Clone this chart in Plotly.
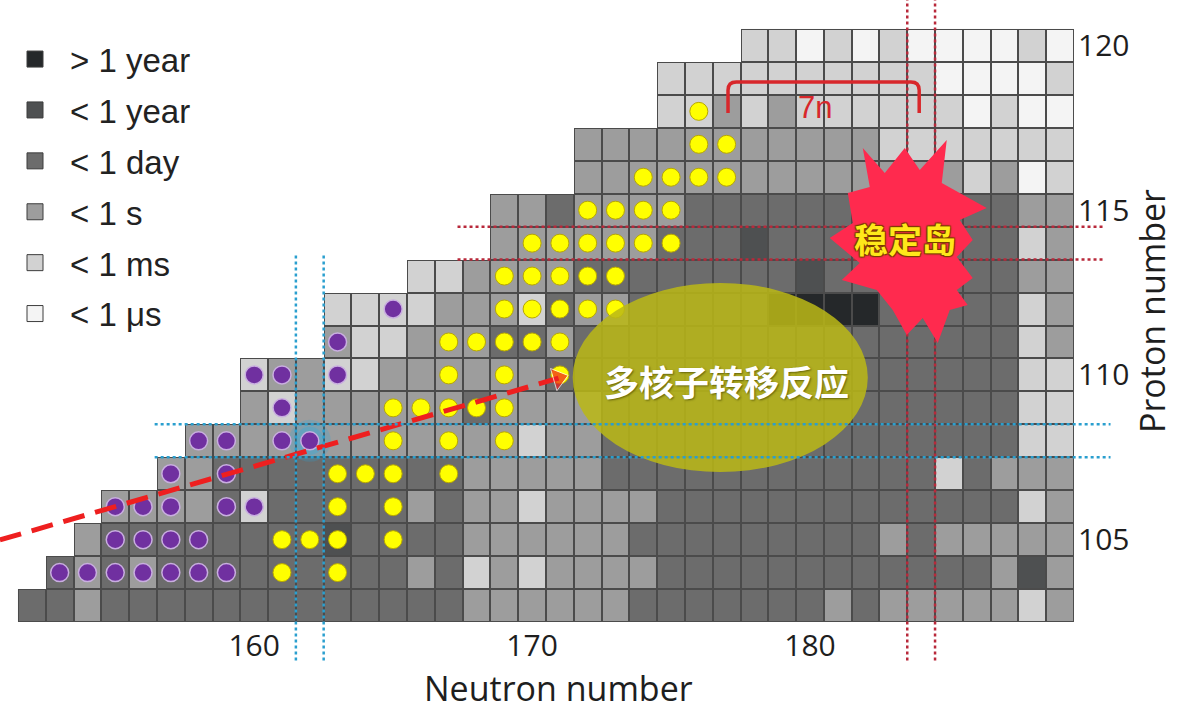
import plotly.graph_objects as go

# Half-life classes (legend order) and their shades
HALF_LIFE_LABELS = ["> 1 year", "< 1 year", "< 1 day", "< 1 s", "< 1 ms", "< 1 μs"]
HALF_LIFE_COLORS = ["#25282a", "#4e5051", "#6c6c6c", "#9d9d9d", "#d2d2d2", "#f4f4f4"]
CLASS_CODES = "ABCDEF"

# Chart of nuclides: one row per proton number, cells run from the first
# known neutron number up to N = 189
N_MIN, N_MAX = 152, 189
PROTON_NUMBERS = list(range(103, 121))
ROW_FIRST_N = [152, 153, 154, 155, 157, 158, 160, 160, 163,
               163, 166, 169, 169, 172, 172, 175, 175, 178]
ROW_CLASSES = [
    "CCDCCCCCCCCCCCCCDDDDDDCCCCCCCDCDDDDDED",   # Z = 103
    "CDCDCCCCCCCCCDCEDEDDDDCCCCCCCCCCCCDBD",    # Z = 104
    "DCCCCCCCCBCCCCDDDDDDCCCCCCCCCDCDDDDD",     # Z = 105
    "DDDDCECCCCCDCDDEDDDDCCCCCCCCCCCCCED",      # Z = 106
    "DDCCCCCCCCCDDDDDCCCCCCCCCCCCECDDD",        # Z = 107
    "DDDDDDDDDDDDEDDCCCCCCCCCCCCCCCEE",         # Z = 108
    "DEDDDDDDCDDDDCCCCCCCCCCCCCCCEE",           # Z = 109
    "EDDEEDDDDDDCCCCCCCCCCCCCCCCCEE",           # Z = 110
    "DEEDDDCCDCCCCCCCCCCCCCCCCED",              # Z = 111
    "EEEEDDDECDDCCCCCAAAACCCCCED",              # Z = 112
    "EEDDDDCCCCCCCCBCCCCCCCDD",                 # Z = 113
    "DDDDDDCCCBCCCCCCCCCED",                    # Z = 114
    "DDCDDDDCCCCCCCCCCCCDD",                    # Z = 115
    "DDDDDDDDDDDDDDEDFE",                       # Z = 116
    "DDDDDDDDDDDEEEEEEE",                       # Z = 117
    "EEDEDEEEEEEFEFF",                          # Z = 118
    "EEEEEEEEEEFFFFE",                          # Z = 119
    "EEFEFEFFFFEF",                             # Z = 120
]

# Nuclides reached by fusion-evaporation (purple) and other reactions (yellow)
PURPLE_N = [153, 154, 155, 156, 157, 158, 159,
            155, 156, 157, 158,
            155, 156, 157, 159, 160,
            157, 159,
            158, 159, 161, 162,
            161,
            160, 161, 163,
            163,
            165]
PURPLE_Z = [104] * 7 + [105] * 4 + [106] * 5 + [107] * 2 + [108] * 4 + [109] + [110] * 3 + [111] + [112]

YELLOW_N = [161, 163,
            161, 162, 163, 165,
            163, 165,
            163, 164, 165, 167,
            165, 167, 169,
            165, 166, 167, 168, 169,
            167, 169, 171,
            167, 168, 169, 170, 171,
            169, 170, 171, 172, 173,
            169, 170, 171, 172, 173,
            170, 171, 172, 173, 174, 175,
            172, 173, 174, 175,
            174, 175, 176, 177,
            176, 177,
            176]
YELLOW_Z = ([104] * 2 + [105] * 4 + [106] * 2 + [107] * 4 + [108] * 3 + [109] * 5 +
            [110] * 3 + [111] * 5 + [112] * 5 + [113] * 5 + [114] * 6 + [115] * 4 +
            [116] * 4 + [117] * 2 + [118])

# Shell closures and the superheavy island
DEFORMED_N, DEFORMED_Z = 162, 108
MAGIC_N, MAGIC_Z = 184, 114

X_TICKS = [160, 170, 180]
Y_TICKS = [105, 110, 115, 120]
X_RANGE = [150.853, 189.5]
Y_RANGE = [102.5, 121.38]

neutrons = list(range(N_MIN, N_MAX + 1))
z_class, z_mask = [], []
for first, codes in zip(ROW_FIRST_N, ROW_CLASSES):
    row = [None] * (first - N_MIN) + [CLASS_CODES.index(c) for c in codes]
    assert len(row) == len(neutrons), (first, len(row))
    z_class.append(row)
    z_mask.append([None if v is None else 0 for v in row])

n_cls = len(HALF_LIFE_COLORS)
colorscale = []
for i, c in enumerate(HALF_LIFE_COLORS):
    colorscale += [[i / n_cls, c], [(i + 1) / n_cls, c]]

fig = go.Figure()

# cell borders: a uniform layer under the gapped class layer
fig.add_trace(go.Heatmap(x=neutrons, y=PROTON_NUMBERS, z=z_mask,
                         colorscale=[[0, "#4b4b4b"], [1, "#4b4b4b"]],
                         showscale=False, hoverinfo="skip"))
fig.add_trace(go.Heatmap(x=neutrons, y=PROTON_NUMBERS, z=z_class,
                         colorscale=colorscale, zmin=-0.5, zmax=n_cls - 0.5,
                         xgap=2, ygap=2, showscale=False, hoverinfo="skip"))

# glow on the deformed shell nucleus
fig.add_trace(go.Scatter(x=[DEFORMED_N, DEFORMED_N], y=[DEFORMED_Z, DEFORMED_Z], mode="markers",
                         marker=dict(size=[42, 28], color=["rgba(30,170,230,0.30)", "rgba(30,175,235,0.40)"],
                                     line=dict(width=0)),
                         showlegend=False, hoverinfo="skip"))

fig.add_trace(go.Scatter(x=PURPLE_N, y=PURPLE_Z, mode="markers",
                         marker=dict(size=18, color="#7030a0", line=dict(color="#c9aee0", width=1.5)),
                         showlegend=False, hoverinfo="skip"))
fig.add_trace(go.Scatter(x=YELLOW_N, y=YELLOW_Z, mode="markers",
                         marker=dict(size=18, color="#ffff00", line=dict(color="#b8a800", width=1)),
                         showlegend=False, hoverinfo="skip"))

# dashed arrow towards the multinucleon transfer region
ARROW_N = [150.85, 170.95]
ARROW_Z = [104.99, 109.9]
fig.add_trace(go.Scatter(x=ARROW_N, y=ARROW_Z, mode="lines+markers",
                         line=dict(color="#ee1f1f", width=5, dash="22px,11px"),
                         marker=dict(size=[0, 20], symbol="triangle-up", angleref="previous",
                                     color="#ee1f1f"),
                         showlegend=False, hoverinfo="skip"))

# legend entries
for label, color in zip(HALF_LIFE_LABELS, HALF_LIFE_COLORS):
    fig.add_trace(go.Scatter(x=[None], y=[None], mode="markers", name=label, legendgroup=label,
                             marker=dict(symbol="square", size=16, color=color,
                                         line=dict(color="#3c3c3c", width=1))))

shapes = []
# multinucleon transfer ellipse
shapes.append(dict(type="circle", xref="x", yref="y", x0=171.46, x1=182.08, y0=107.05, y1=112.79,
                   fillcolor="rgba(186,184,22,0.86)", line=dict(width=0), layer="above"))

blue = dict(color="#2a9fcf", width=2.5, dash="dot")
red = dict(color="#b8283a", width=2.5, dash="dot")
for xv in (DEFORMED_N - 0.5, DEFORMED_N + 0.5):
    shapes.append(dict(type="line", xref="x", yref="paper", x0=xv, x1=xv, y0=-0.062, y1=0.593, line=blue))
for yv in (DEFORMED_Z - 0.5, DEFORMED_Z + 0.5):
    shapes.append(dict(type="line", xref="paper", yref="y", x0=0.144, x1=1.034, y0=yv, y1=yv, line=blue))
for xv in (MAGIC_N - 0.5, MAGIC_N + 0.5):
    shapes.append(dict(type="line", xref="x", yref="paper", x0=xv, x1=xv, y0=-0.062, y1=1.0, line=red))
for yv in (MAGIC_Z - 0.5, MAGIC_Z + 0.5):
    shapes.append(dict(type="line", xref="paper", yref="y", x0=0.426, x1=1.029, y0=yv, y1=yv, line=red))

# "7n" bracket between N = 177 and N = 184
bx0, bx1, by0, by1, rx, ry = 177.05, 183.93, 117.95, 118.89, 0.3, 0.25
shapes.append(dict(type="path", xref="x", yref="y",
                   path=(f"M {bx0},{by0} L {bx0},{by1 - ry} Q {bx0},{by1} {bx0 + rx},{by1} "
                         f"L {bx1 - rx},{by1} Q {bx1},{by1} {bx1},{by1 - ry} L {bx1},{by0}"),
                   line=dict(color="#d8272b", width=3.5)))

# starburst marking the island of stability
STAR_CENTER = (183.41, 113.94)
STAR_OFFSETS = [(-1.511, 2.945), (-0.719, 2.186), (0.0, 2.945), (0.540, 2.277), (1.511, 3.188),
                (1.331, 1.882), (2.950, 1.123), (1.978, 0.759), (2.446, 0.152), (1.871, -0.364),
                (2.446, -1.002), (1.871, -1.366), (2.266, -1.821), (1.619, -1.973), (1.187, -2.975),
                (0.647, -2.216), (0.072, -2.732), (-0.432, -1.973), (-1.007, -1.366), (-2.266, -1.062),
                (-1.619, -0.546), (-2.698, 0.213), (-1.871, 0.668), (-2.050, 1.579), (-1.259, 1.761)]
star_path = "M " + " L ".join(f"{STAR_CENTER[0] + dx:.3f},{STAR_CENTER[1] + dy:.3f}"
                              for dx, dy in STAR_OFFSETS) + " Z"
shapes.append(dict(type="path", xref="x", yref="y", path=star_path,
                   fillcolor="#ff2a4e", line=dict(width=0), layer="above"))

title_font = dict(family="Open Sans", size=34, color="#1e1e1e")
tick_font = dict(family="Open Sans", size=30, color="#1e1e1e")

annotations = [
    dict(x=177.0, y=109.84, xref="x", yref="y", text="多核子转移反应", showarrow=False,
         font=dict(family="Noto Sans CJK SC", size=35, color="#ffffff", weight="bold",
                   shadow="1px 1px 2px rgba(70,70,0,0.7)")),
    dict(x=183.41, y=114.15, xref="x", yref="y", text="稳定岛", showarrow=False,
         font=dict(family="Noto Sans CJK SC", size=34, color="#ffe81a", weight="bold",
                   shadow="1px 1px 1px #7a3c00, -1px -1px 1px #7a3c00, 1px -1px 1px #7a3c00, -1px 1px 1px #7a3c00")),
    dict(x=180.17, y=118.13, xref="x", yref="y", text="7n", showarrow=False,
         font=dict(family="Liberation Sans", size=31, color="#d8272b")),
    # x-axis title
    dict(x=558 / 1074, y=-0.1065, xref="paper", yref="paper", text="Neutron number", showarrow=False,
         xanchor="center", yanchor="middle", font=title_font),
]

fig.update_layout(
    width=1184, height=712,
    margin=dict(l=0, r=110, t=0, b=90),
    plot_bgcolor="white", paper_bgcolor="white",
    shapes=shapes, annotations=annotations,
    xaxis=dict(range=X_RANGE, tickvals=X_TICKS, showgrid=False, zeroline=False, showline=False,
               ticks="", tickfont=tick_font, ticklabelstandoff=3),
    yaxis=dict(range=Y_RANGE, side="right", tickvals=Y_TICKS, showgrid=False, zeroline=False,
               showline=False, ticks="", tickfont=tick_font, ticklabelstandoff=3,
               title=dict(text="Proton number", font=title_font, standoff=8)),
    legend=dict(x=0.0, y=0.95, xanchor="left", yanchor="top", bgcolor="rgba(0,0,0,0)",
                font=dict(family="Liberation Sans", size=33, color="#222222"),
                itemwidth=60, tracegroupgap=5),
    showlegend=True,
)

fig.write_html("out.html")
